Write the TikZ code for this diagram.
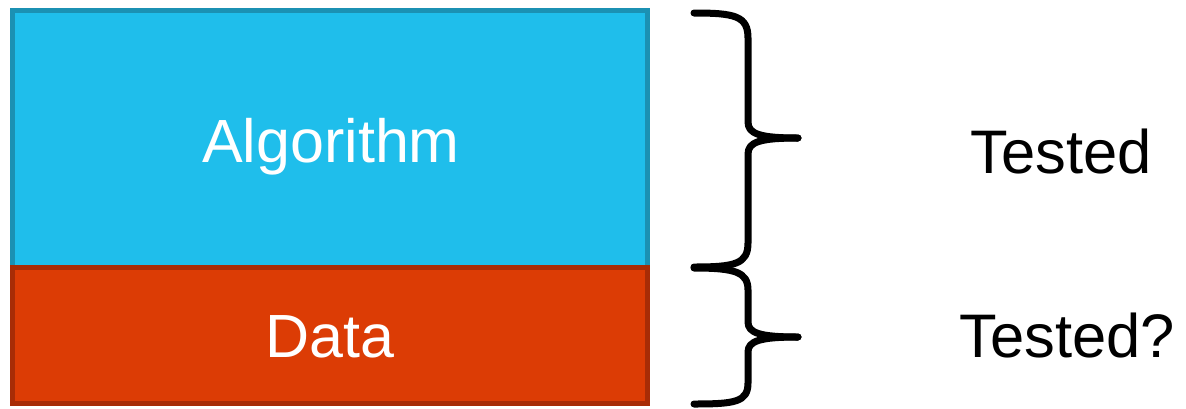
\documentclass[tikz,border=0pt]{standalone}
\usepackage{fontspec}
\setmainfont{Liberation Sans}
\definecolor{algfill}{HTML}{1FBEEB}
\definecolor{algline}{HTML}{1B91B3}
\definecolor{datafill}{HTML}{DC3C05}
\definecolor{dataline}{HTML}{A82C06}
\begin{document}
\begin{tikzpicture}[x=1pt,y=-1pt,
  box/.style={draw, line width=5pt, inner sep=0pt, minimum width=635pt},
  boxtext/.style={anchor=base, text=white, font=\fontsize{61}{72}\selectfont, inner sep=0pt},
  sidetext/.style={anchor=base, text=black, font=\fontsize{61.5}{72}\selectfont, inner sep=0pt},
  bracepath/.style={draw=black, line width=7pt, line cap=round, line join=round}]
\useasboundingbox (0,0) rectangle (1186,408);
\node[box, fill=algfill, draw=algline, minimum height=258pt] (alg) at (330,139) {};
\node[box, fill=datafill, draw=dataline, minimum height=136pt] (data) at (330,335.5) {};
\node[boxtext] (algt) at (331,162) {Algorithm};
\node[boxtext] (datat) at (330,357) {Data};
\node[sidetext] (t1) at (1061,173) {Tested};
\node[sidetext] (t2) at (1067,357) {Tested?};
% top brace
\draw[bracepath] (694,13) .. controls (735,13) and (748,16) .. (748,38) -- (748,122)
  .. controls (748,134) and (760,138) .. (798,138);
\draw[bracepath] (798,138) .. controls (760,138) and (748,142) .. (748,154) -- (748,243)
  .. controls (748,264) and (735,267) .. (694,267);
% bottom brace
\draw[bracepath] (694,268) .. controls (735,268) and (748,272) .. (748,290) -- (748,322)
  .. controls (748,333) and (760,337) .. (798,337);
\draw[bracepath] (798,337) .. controls (760,337) and (748,341) .. (748,352) -- (748,383)
  .. controls (748,402) and (735,404) .. (694,404);
\end{tikzpicture}
\end{document}
